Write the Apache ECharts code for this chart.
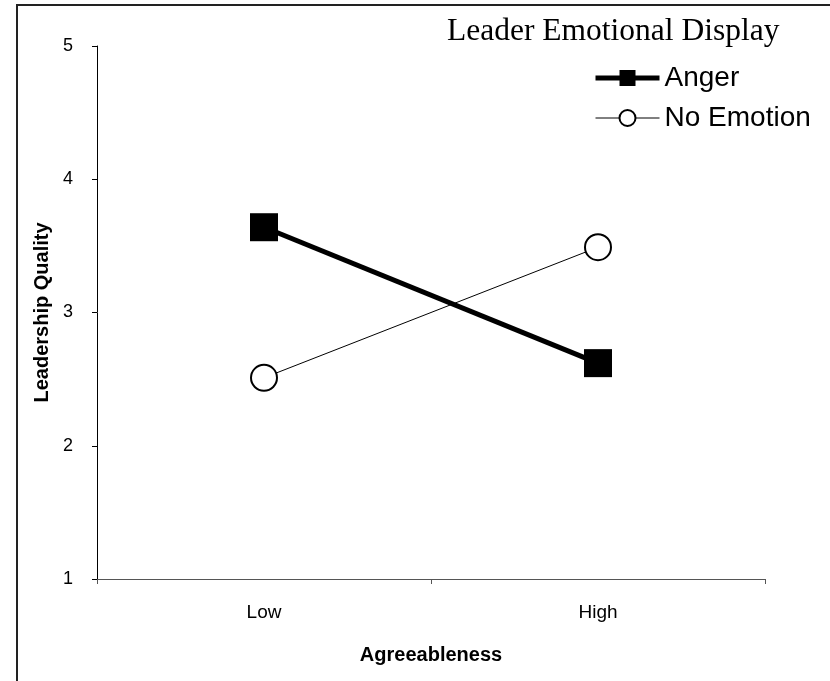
<!DOCTYPE html>
<html>
<head>
<meta charset="utf-8">
<script src="https://cdn.jsdelivr.net/npm/echarts@6/dist/echarts.min.js"></script>
<style>
html,body{margin:0;padding:0;background:#fff;}
#chart{width:830px;height:681px;}
</style>
</head>
<body>
<div id="chart"></div>
<script>
const categories = ['Low', 'High'];
const angerValues = [3.64, 2.62];
const noEmotionValues = [2.51, 3.49];
const yTicks = [1, 2, 3, 4, 5];
const legendTitle = 'Leader Emotional Display';
const xName = 'Agreeableness';
const yName = 'Leadership Quality';

const chart = echarts.init(document.getElementById('chart'), null, {renderer: 'canvas'});
chart.setOption({
  animation: false,
  backgroundColor: '#fff',
  grid: {left: 97, right: 65, top: 46, bottom: 102},
  graphic: [
    {type: 'polyline', shape: {points: [[17, 681], [17, 5], [830, 5]]}, style: {stroke: '#222', lineWidth: 2, fill: null}},
    {type: 'text', left: 447, top: 16, style: {text: legendTitle, font: '31.5px "Liberation Serif"', fill: '#000'}}
  ],
  legend: {
    orient: 'vertical',
    left: 588,
    top: 59,
    itemWidth: 64,
    itemHeight: 20,
    itemGap: 12,
    data: ['Anger', 'No Emotion'],
    lineStyle: {width: 'inherit'},
    textStyle: {fontFamily: 'Liberation Sans', fontSize: 28, color: '#000'}
  },
  xAxis: {
    type: 'category',
    data: categories,
    boundaryGap: true,
    name: xName,
    nameLocation: 'middle',
    nameGap: 66,
    nameTextStyle: {fontFamily: 'Liberation Sans', fontSize: 20, fontWeight: 'bold', color: '#000'},
    axisLine: {lineStyle: {color: '#555', width: 1}},
    axisTick: {show: true, length: 5, inside: false, lineStyle: {color: '#555'}},
    axisLabel: {fontFamily: 'Liberation Sans', fontSize: 19, color: '#000', margin: 24},
    splitLine: {show: false}
  },
  yAxis: {
    type: 'value',
    min: yTicks[0],
    max: yTicks[yTicks.length - 1],
    interval: 1,
    name: yName,
    nameLocation: 'middle',
    nameGap: 42,
    nameTextStyle: {fontFamily: 'Liberation Sans', fontSize: 20, fontWeight: 'bold', color: '#000'},
    axisLine: {show: true, lineStyle: {color: '#000', width: 1}},
    axisTick: {show: true, length: 5, lineStyle: {color: '#000'}},
    axisLabel: {fontFamily: 'Liberation Sans', fontSize: 18, color: '#000', margin: 24},
    splitLine: {show: false}
  },
  series: [
    {
      name: 'No Emotion',
      type: 'line',
      data: noEmotionValues,
      symbol: 'circle',
      symbolSize: 26,
      itemStyle: {color: '#fff', borderColor: '#000', borderWidth: 2},
      lineStyle: {color: '#000', width: 1},
      z: 2
    },
    {
      name: 'Anger',
      type: 'line',
      data: angerValues,
      symbol: 'rect',
      symbolSize: 28,
      itemStyle: {color: '#000'},
      lineStyle: {color: '#000', width: 5},
      z: 3
    }
  ]
});
</script>
</body>
</html>
